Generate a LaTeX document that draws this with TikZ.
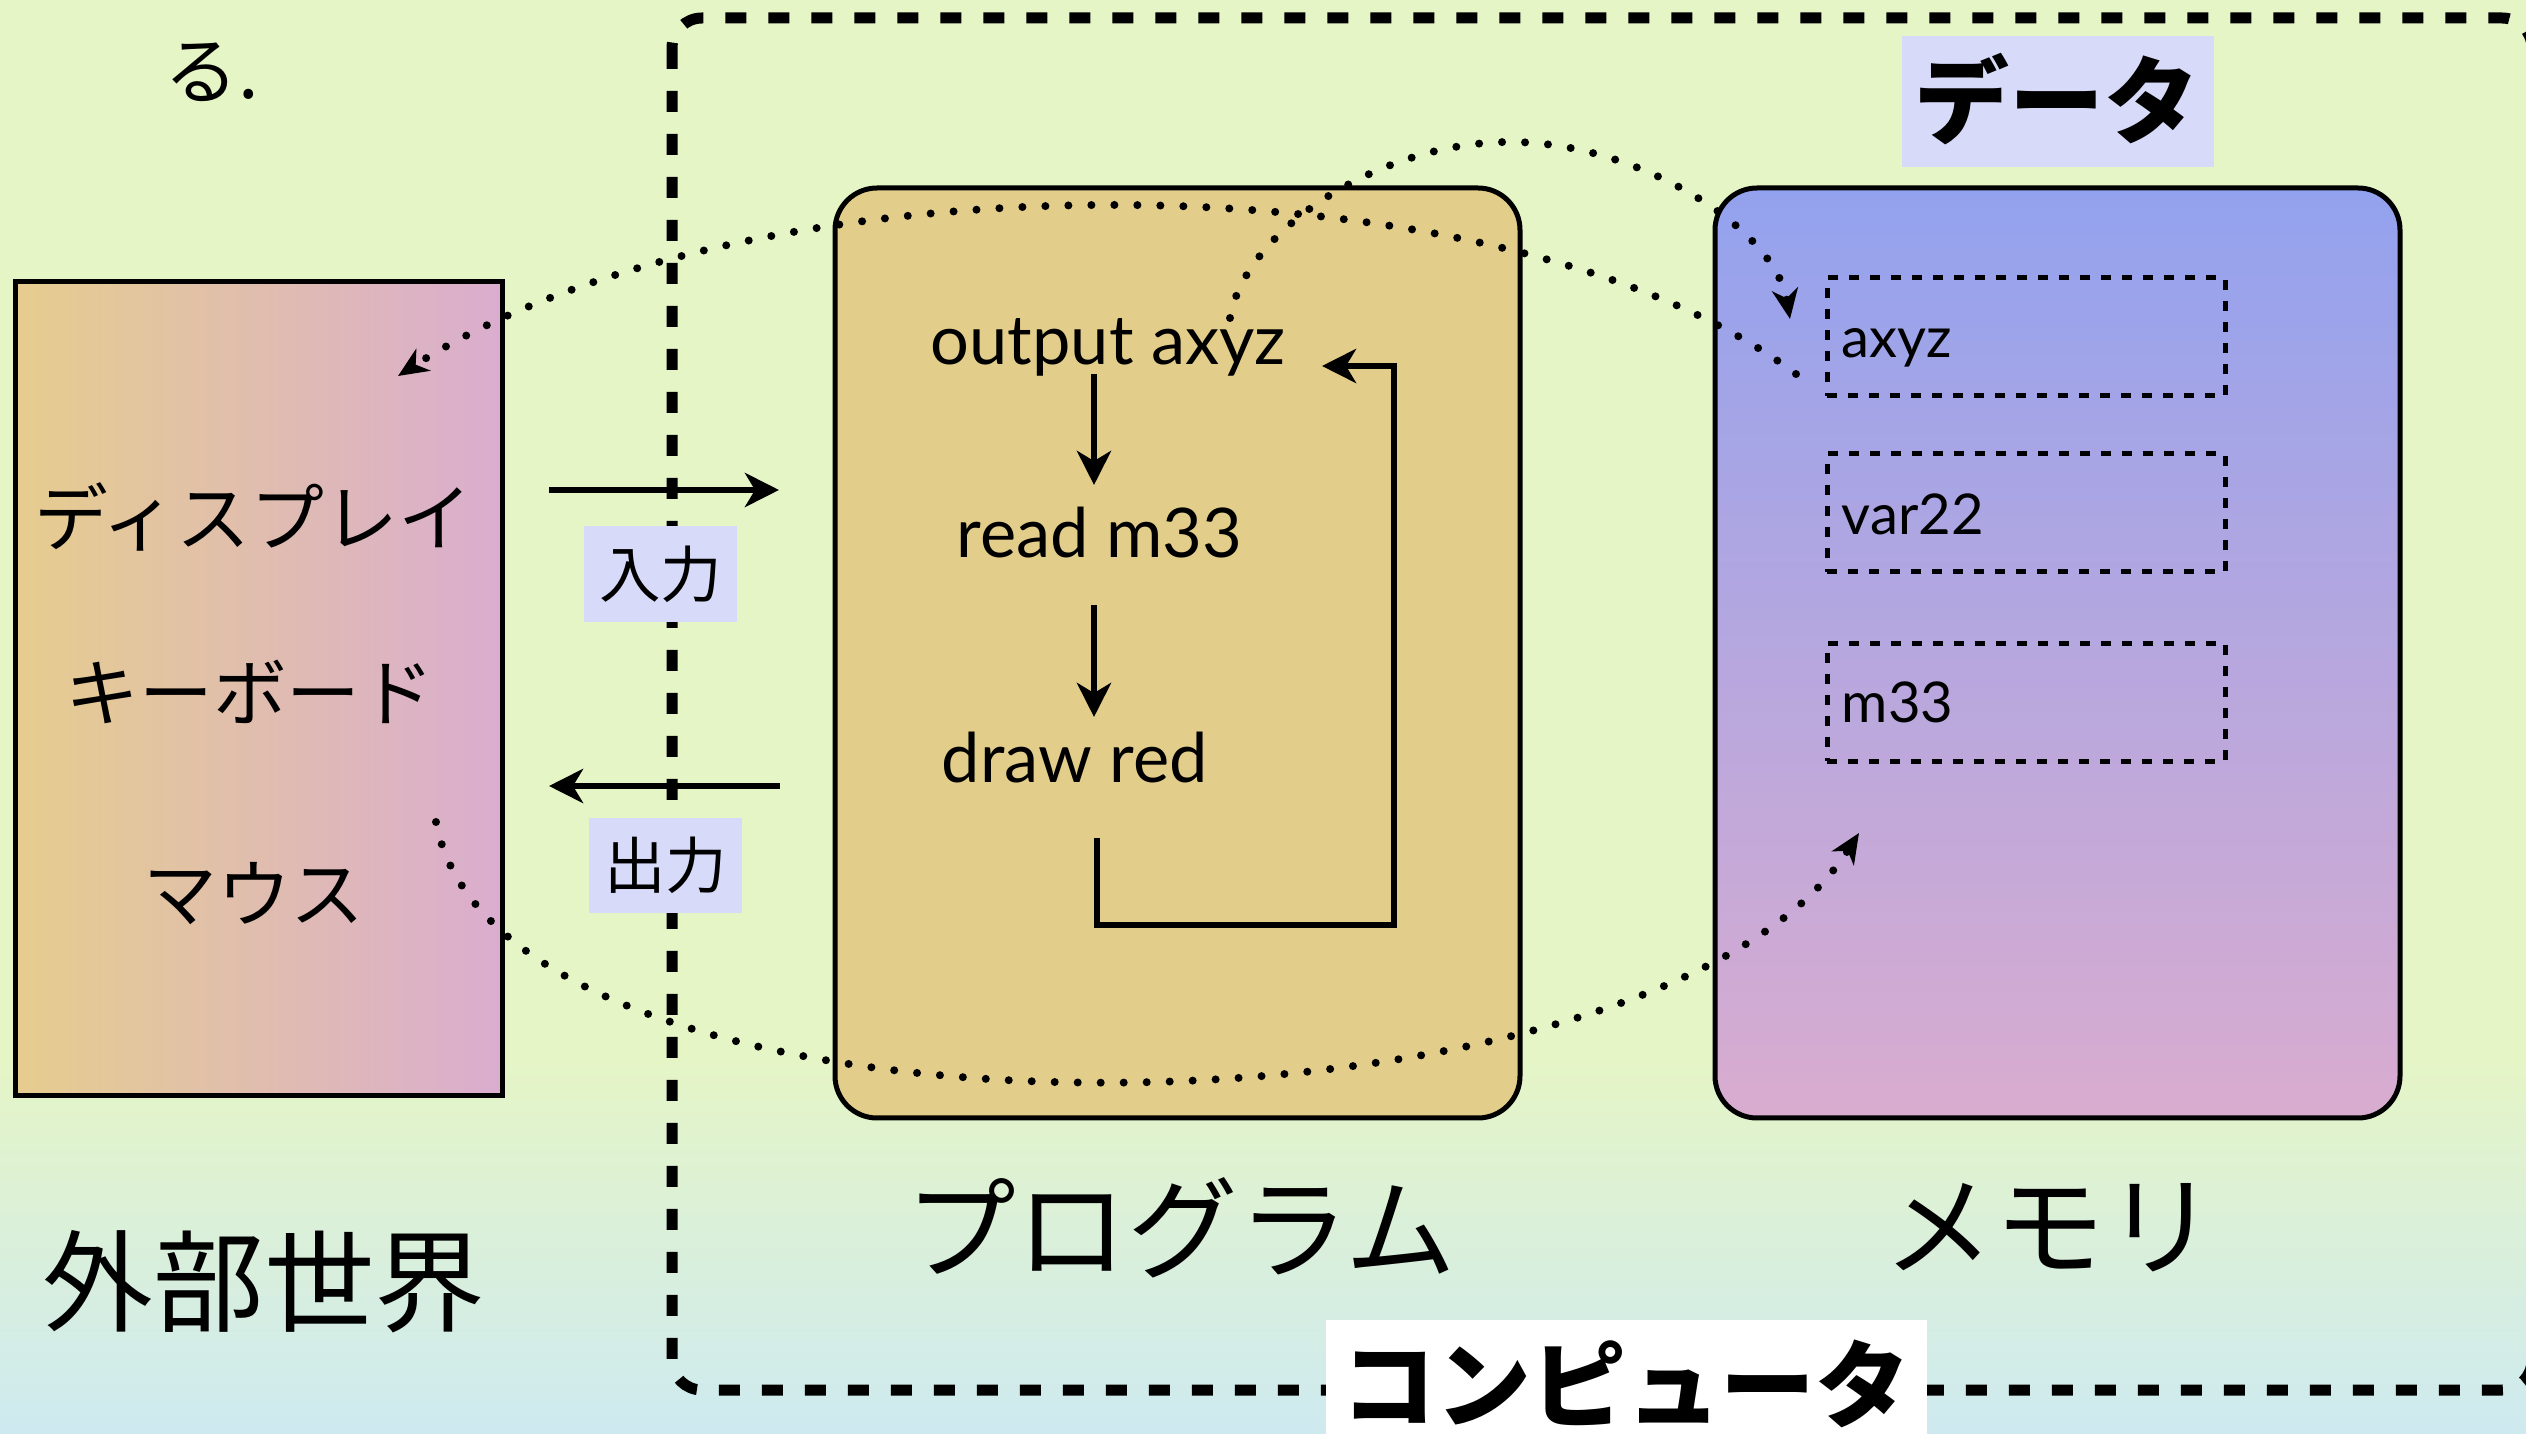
\documentclass[tikz,border=0pt]{standalone}
\usepackage{fontspec}
\setmainfont{Lato}
\newfontfamily\jp{Noto Sans CJK JP}
\usetikzlibrary{arrows.meta}
\definecolor{bgtop}{RGB}{229,245,198}
\definecolor{bgbot}{RGB}{206,234,240}
\definecolor{progfill}{RGB}{227,205,138}
\definecolor{memtop}{RGB}{147,162,238}
\definecolor{membot}{RGB}{217,172,207}
\definecolor{devleft}{RGB}{230,205,142}
\definecolor{devright}{RGB}{218,173,207}
\definecolor{lblbg}{RGB}{216,218,249}
\tikzset{
  dotline/.style={line width=0.8mm, dash pattern=on 0mm off 2.3mm, line cap=round},
  dottip/.style={-{Stealth[length=3mm,width=2.6mm,inset=0.9mm]}},
  solidarrow/.style={line width=0.6mm, -{Stealth[length=3.4mm,width=3.4mm,inset=1mm]}},
  bigbox/.style={draw, line width=0.5mm, minimum width=68.5mm, minimum height=93mm, rounded corners=4.2mm, inner sep=0},
  slotbox/.style={draw, line width=0.5mm, dash pattern=on 1mm off 1.1mm, minimum width=39.8mm, minimum height=11.8mm, inner sep=0},
  jpmid/.style={font=\jp\fontsize{21pt}{25pt}\selectfont, inner sep=0},
  jpbig/.style={font=\jp\fontsize{31.5pt}{36pt}\selectfont, inner sep=0},
  jpbold/.style={font=\jp\bfseries\fontsize{27pt}{31pt}\selectfont, inner sep=0},
  jplbl/.style={font=\jp\fontsize{17.5pt}{21pt}\selectfont, fill=lblbg, inner sep=0},
  progtext/.style={font=\fontsize{19.5pt}{23pt}\selectfont, anchor=base west, inner sep=0},
  memtext/.style={font=\fontsize{16pt}{19pt}\selectfont, anchor=base west, inner sep=0},
}
\begin{document}
\begin{tikzpicture}[x=0.1mm, y=-0.1mm]
\useasboundingbox (0,0) rectangle (2526,1434);
\clip (0,0) rectangle (2526,1434);
% background
\fill[bgtop] (0,0) rectangle (2526,1434);
\shade[top color=bgtop, bottom color=bgbot] (0,1060) rectangle (2526,1434);
% computer dashed box
\draw[line width=1.1mm, dash pattern=on 2.1mm off 2.2mm, rounded corners=3mm] (672,18) rectangle (2532,1390);
% boxes
\node[draw, line width=0.5mm, minimum width=48.7mm, minimum height=81.4mm, left color=devleft, right color=devright, inner sep=0] (dev) at (258.5,689) {};
\node[bigbox, fill=progfill] (prog) at (1177.5,653) {};
\node[bigbox, top color=memtop, bottom color=membot] (mem) at (2057.5,653) {};
% memory slots
\node[slotbox] (s1) at (2026,337) {};
\node[slotbox] (s2) at (2026,513) {};
\node[slotbox] (s3) at (2026,702.5) {};
\node[memtext] (t1) at (1841,358) {axyz};
\node[memtext] (t2) at (1841,535) {var22};
\node[memtext] (t3) at (1841,723) {m33};
% left box texts
\node[jpmid] (disp) at (253,517) {ディスプレイ};
\node[jpmid] (kb) at (250,692) {キーボード};
\node[jpmid] (mouse) at (254,894) {マウス};
\node[jpmid] (ru) at (212,72) {る.};
% big labels
\node[jpbig] (world) at (264,1282) {外部世界};
\node[jpbig] (progl) at (1181,1228) {プログラム};
\node[jpbig] (meml) at (2050,1228) {メモリ};
\node[fill=lblbg, minimum width=31.2mm, minimum height=13.1mm, inner sep=0] (datab) at (2058,101.5) {};
\node[jpbold] (data) at (2057,99) {データ};
\node[fill=white, minimum width=60.1mm, minimum height=13mm, inner sep=0] (compb) at (1626.5,1385) {};
\node[jpbold] (comp) at (1626,1384) {コンピュータ};
% input / output
\node[jplbl, minimum width=15.3mm, minimum height=9.6mm] (inl) at (660.5,574) {入力};
\node[jplbl, minimum width=15.3mm, minimum height=9.5mm] (outl) at (665.5,865.5) {出力};
\coordinate (inS) at (549,490);
\coordinate (inE) at (779,490);
\coordinate (outS) at (780,786);
\coordinate (outE) at (549,786);
\draw[solidarrow] (inS) -- (inE);
\draw[solidarrow] (outS) -- (outE);
% program text
\node[progtext] (o1) at (930,365) {output axyz};
\node[progtext] (r1) at (956,558) {read m33};
\node[progtext] (d1) at (941,782) {draw red};
\coordinate (a1s) at (1094,374);
\coordinate (a1e) at (1094,485);
\coordinate (a2s) at (1094,605);
\coordinate (a2e) at (1094,717);
\draw[solidarrow] (a1s) -- (a1e);
\draw[solidarrow] (a2s) -- (a2e);
\coordinate (lp1) at (1097,838);
\coordinate (lp2) at (1394,925);
\coordinate (lp3) at (1322,366);
\draw[solidarrow] (lp1) |- (lp2) |- (lp3);
% dotted curves
\coordinate (cA1) at (1796,374);
\coordinate (cA2) at (398,376);
\draw[dotline, dottip] (cA1) .. controls (1500,150) and (750,150) .. (cA2);
\coordinate (cB1) at (1230,318);
\coordinate (cBm) at (1510,142);
\coordinate (cB2) at (1790,319);
\draw[dotline, dottip] (cB1) .. controls (1245,230) and (1380,142) .. (cBm) .. controls (1640,142) and (1775,230) .. (cB2);
\coordinate (cC1) at (436,822);
\coordinate (cC2) at (1859,833);
\draw[dotline, dottip] (cC1) .. controls (500,1170) and (1650,1160) .. (cC2);
\end{tikzpicture}
\end{document}
